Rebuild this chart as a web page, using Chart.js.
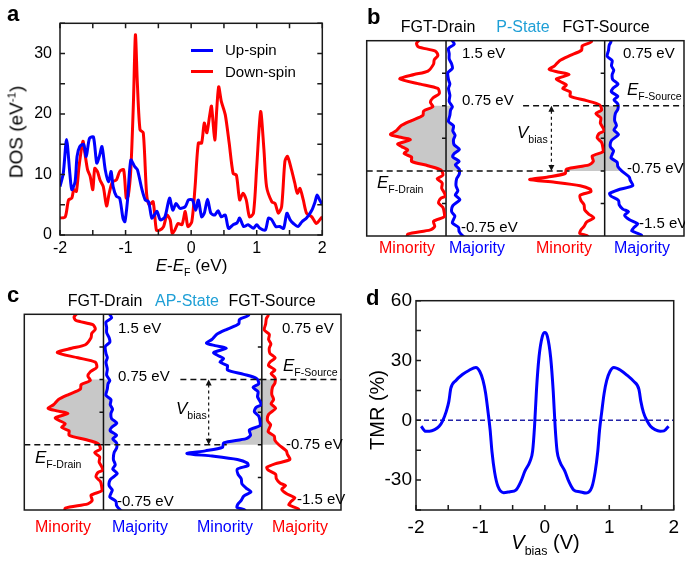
<!DOCTYPE html>
<html>
<head>
<meta charset="utf-8">
<script src="https://cdn.jsdelivr.net/npm/chart.js@4.4.1/dist/chart.umd.min.js"></script>
<style>
  body { margin: 0; width: 685px; height: 563px; position: relative; overflow: hidden; background: #fff;
         font-family: "Liberation Sans", Arial, sans-serif; color: #000; }
  canvas { position: absolute; }
  .t { position: absolute; white-space: nowrap; line-height: 1; }
  .s { font-size: 0.62em; vertical-align: -0.5em; line-height: 0; }
  .p { font-size: 0.6em; vertical-align: 0.6em; line-height: 0; }
</style>
</head>
<body>
<canvas id="chartA" width="340" height="270" style="left:0;top:0"></canvas>
<canvas id="chartB" width="345" height="270" style="left:340px;top:0"></canvas>
<canvas id="chartC" width="345" height="283" style="left:0;top:280px"></canvas>
<canvas id="chartD" width="345" height="283" style="left:340px;top:280px"></canvas>
<script>
// panel a: spin-resolved DOS (eV^-1) vs E-E_F (eV)
const upE = [-2.00,-1.95,-1.90,-1.85,-1.82,-1.77,-1.74,-1.70,-1.64,-1.60,
  -1.55,-1.49,-1.44,-1.40,-1.36,-1.31,-1.26,-1.22,-1.19,-1.14,
  -1.09,-1.04,-1.01,-0.97,-0.92,-0.86,-0.82,-0.75,-0.70,-0.65,
  -0.60,-0.56,-0.52,-0.47,-0.40,-0.33,-0.28,-0.23,-0.17,-0.09,
  -0.04,0.02,0.07,0.11,0.16,0.20,0.25,0.30,0.36,0.41,
  0.46,0.52,0.57,0.64,0.70,0.74,0.80,0.87,0.95,1.00,
  1.05,1.13,1.18,1.23,1.29,1.35,1.41,1.46,1.51,1.56,
  1.63,1.69,1.76,1.84,1.89,1.92,1.96,2.00];
const upDos = [8.0,10.2,15.8,10.2,7.5,8.8,13,14.6,15,13,
  16,16.2,11.9,13,14.6,10.8,8.8,10.5,8,6.4,
  6.1,2.8,2.2,5.8,12.4,11.3,10.8,7.5,5.8,5.5,
  2.8,3.3,3.9,2.5,3,6.1,4.1,5.2,4.4,4.7,
  5.8,5.8,4.1,5.8,3,3.6,5.9,3.6,3.3,4,
  3,3.3,1.1,1.7,2,2.8,1.4,1.7,1.1,1.7,
  1.1,0.8,2.8,2.5,1.4,1.4,1.1,3.6,2.5,1.9,
  1.4,2.2,2.8,4.1,5.5,6.6,5.8,5];
const downE = [-2.00,-1.92,-1.87,-1.82,-1.79,-1.75,-1.71,-1.65,-1.62,-1.58,
  -1.54,-1.50,-1.47,-1.43,-1.39,-1.34,-1.29,-1.25,-1.20,-1.14,
  -1.09,-1.03,-0.99,-0.96,-0.92,-0.88,-0.85,-0.82,-0.78,-0.73,
  -0.68,-0.64,-0.58,-0.53,-0.48,-0.42,-0.37,-0.32,-0.29,-0.25,
  -0.20,-0.14,-0.09,-0.05,0.01,0.06,0.11,0.16,0.20,0.24,
  0.28,0.31,0.36,0.39,0.42,0.46,0.52,0.58,0.64,0.69,
  0.74,0.79,0.84,0.89,0.95,1.00,1.06,1.11,1.15,1.23,
  1.28,1.33,1.38,1.43,1.47,1.53,1.58,1.62,1.66,1.71,
  1.76,1.84,1.91,1.96,2.00];
const downDos = [2.8,3,5.8,6.1,7.5,7.2,11.3,15.5,13.5,10.8,
  9.7,7.5,11,10.5,9.1,8,4.8,6.9,8.8,9.1,
  10.5,10.8,6.1,6.4,10.8,22,33.1,25,17.4,16.9,
  6.9,5,5.5,0.8,0.8,1.4,3.3,2.5,0.3,0.8,
  1.9,1.7,3.9,1.4,2.2,8,15.2,15.2,18.5,16.9,
  19.6,21.3,15.7,20.7,24.5,22.1,19.9,15.2,10.2,9.9,
  5.8,6.9,5.8,3,3.6,11.3,20.4,14.1,8,5.5,
  5.2,3.6,4.7,12.2,13,10.8,8.6,6.9,7.7,5.8,
  3.6,3,1.9,2.5,3];
const aXLabels = [-2, -1, 0, 1, 2];
const aYLabels = [0, 10, 20, 30];

// panels b, c: energy windows of drain / source (eV) and bias
const vBias = 0.75;
const drainRange = [-0.75, 1.5];
const sourceRange = [-1.5, 0.75];

// panel d: TMR (%) vs V_bias (V)
const biasV = [-1.92,-1.85,-1.79,-1.71,-1.64,-1.59,-1.53,-1.49,-1.46,-1.38,
  -1.28,-1.18,-1.07,-1.01,-0.96,-0.92,-0.88,-0.85,-0.82,-0.78,
  -0.73,-0.64,-0.54,-0.45,-0.37,-0.31,-0.23,-0.19,-0.16,-0.13,
  -0.09,-0.04,0,0.04,0.09,0.13,0.16,0.19,0.23,0.31,
  0.37,0.45,0.54,0.64,0.73,0.78,0.82,0.85,0.88,0.92,
  0.96,1.01,1.07,1.18,1.28,1.38,1.46,1.49,1.53,1.59,
  1.64,1.71,1.79,1.85,1.92];
const tmr = [-3,-5.5,-5.5,-4.7,-3,-0.5,4.5,9.5,16,20,
  23,25,26.5,24.5,20,13.7,3.7,-4.7,-16,-26,
  -33,-36.3,-35.8,-35,-30.5,-25.5,-20.5,-15.5,-3,15.3,
  32,42,44,42,31.5,14.5,-3.5,-15.5,-20.5,-25.5,
  -30.5,-35,-35.8,-36.5,-33.5,-26,-16,-4.5,3.5,13.5,
  20,24.5,26.5,25,22.5,19.5,15.5,9.5,4,-0.5,
  -3,-4.7,-5.5,-5.3,-3];
const dXLabels = [-2, -1, 0, 1, 2];
const dYLabels = [60, 30, 0, -30];

const BLUE = '#0000ff', RED = '#ff0000', GREY = '#c8c8c8', CYAN = '#1e9fd6';

Chart.defaults.font.family = '"Liberation Sans", Arial, sans-serif';
Chart.defaults.color = '#000';

// box around the plot area, with inward tick marks on the chosen sides
const framePlugin = {
  id: 'frame',
  afterDraw(chart, args, opts) {
    const { ctx, chartArea: a } = chart;
    ctx.save();
    ctx.strokeStyle = '#1a1a1a';
    ctx.lineWidth = 1.5;
    ctx.strokeRect(a.left, a.top, a.right - a.left, a.bottom - a.top);
    const len = 5;
    ctx.beginPath();
    (opts.sides || []).forEach(side => {
      const horiz = side === 'top' || side === 'bottom';
      const s = horiz ? chart.scales.x : chart.scales.y;
      s.ticks.forEach(t => {
        const p = s.getPixelForValue(t.value);
        if (side === 'bottom') { ctx.moveTo(p, a.bottom); ctx.lineTo(p, a.bottom - len); }
        if (side === 'top') { ctx.moveTo(p, a.top); ctx.lineTo(p, a.top + len); }
        if (side === 'left') { ctx.moveTo(a.left, p); ctx.lineTo(a.left + len, p); }
        if (side === 'right') { ctx.moveTo(a.right, p); ctx.lineTo(a.right - len, p); }
      });
    });
    ctx.stroke();
    ctx.restore();
  }
};

// shading of the bias window, zero lines, Fermi levels and the V_bias arrow
const bandPlugin = {
  id: 'band',
  beforeDatasetsDraw(chart) {
    const { ctx, chartArea: a, scales: s } = chart;
    const ok = p => Number.isFinite(p.x) && Number.isFinite(p.y);
    const shade = (i, j, yId, lo, hi) => {
      const y0 = s[yId].getPixelForValue(hi), y1 = s[yId].getPixelForValue(lo);
      const pa = chart.getDatasetMeta(i).data.filter(ok);
      const pb = chart.getDatasetMeta(j).data.filter(ok).reverse();
      ctx.save();
      ctx.beginPath();
      ctx.rect(a.left, y0, a.right - a.left, y1 - y0);
      ctx.clip();
      ctx.beginPath();
      pa.forEach((p, k) => k ? ctx.lineTo(p.x, p.y) : ctx.moveTo(p.x, p.y));
      pb.forEach(p => ctx.lineTo(p.x, p.y));
      ctx.closePath();
      ctx.fillStyle = GREY;
      ctx.fill();
      ctx.restore();
    };
    shade(0, 1, 'yD', 0, vBias);
    shade(2, 3, 'yS', -vBias, 0);

    ctx.save();
    ctx.strokeStyle = '#111';
    ctx.lineWidth = 1.5;
    ctx.beginPath();
    [s.xDm.getPixelForValue(0), s.xSm.getPixelForValue(0)].forEach(x => {
      ctx.moveTo(x, a.top); ctx.lineTo(x, a.bottom);
      for (let e = drainRange[0] + 0.375; e < drainRange[1]; e += 0.375) {
        const y = s.yD.getPixelForValue(e);
        ctx.moveTo(x - 4, y); ctx.lineTo(x, y);
      }
    });
    ctx.stroke();
    ctx.restore();
  },
  afterDatasetsDraw(chart) {
    const { ctx, chartArea: a, scales: s } = chart;
    const yD0 = s.yD.getPixelForValue(0), yS0 = s.yS.getPixelForValue(0);
    ctx.save();
    ctx.strokeStyle = '#111';
    ctx.lineWidth = 1.5;
    ctx.setLineDash([6, 4]);
    ctx.beginPath();
    ctx.moveTo(a.left, yD0); ctx.lineTo(s.xSm.getPixelForValue(15.5), yD0);
    ctx.moveTo(s.xSm.getPixelForValue(36), yS0); ctx.lineTo(a.right, yS0);
    ctx.stroke();
    // V_bias arrow
    const ax = s.xSm.getPixelForValue(23.5);
    ctx.lineWidth = 1.2;
    ctx.setLineDash([3, 3]);
    ctx.beginPath();
    ctx.moveTo(ax, yS0 + 5); ctx.lineTo(ax, yD0 - 5);
    ctx.stroke();
    ctx.setLineDash([]);
    ctx.fillStyle = '#111';
    ctx.beginPath();
    ctx.moveTo(ax, yS0); ctx.lineTo(ax - 3, yS0 + 6); ctx.lineTo(ax + 3, yS0 + 6); ctx.closePath();
    ctx.moveTo(ax, yD0); ctx.lineTo(ax - 3, yD0 - 6); ctx.lineTo(ax + 3, yD0 - 6); ctx.closePath();
    ctx.fill();
    ctx.restore();
  }
};

// dashed zero line for TMR
const zeroPlugin = {
  id: 'zero',
  beforeDatasetsDraw(chart) {
    const { ctx, chartArea: a, scales: s } = chart;
    const y = s.y.getPixelForValue(0);
    ctx.save();
    ctx.strokeStyle = '#2323a8';
    ctx.lineWidth = 1.5;
    ctx.setLineDash([5, 3]);
    ctx.beginPath();
    ctx.moveTo(a.left, y); ctx.lineTo(a.right, y);
    ctx.stroke();
    ctx.restore();
  }
};

const xy = (xs, ys) => xs.map((v, i) => ({ x: v, y: ys[i] }));

// ---- panel a ----
new Chart(document.getElementById('chartA'), {
  type: 'line',
  data: {
    datasets: [
      { label: 'Up-spin', data: xy(upE, upDos), borderColor: BLUE, borderWidth: 3, pointRadius: 0, tension: 0.25 },
      { label: 'Down-spin', data: xy(downE, downDos), borderColor: RED, borderWidth: 3, pointRadius: 0, tension: 0.25 }
    ]
  },
  options: {
    responsive: false,
    animation: false,
    layout: { padding: { top: 23.3, right: 17.7, left: 0, bottom: 0 } },
    plugins: { legend: { display: false }, tooltip: { enabled: false }, frame: { sides: ['bottom', 'top', 'left', 'right'] } },
    scales: {
      x: {
        type: 'linear', min: -2, max: 2,
        grid: { display: false, drawTicks: false }, border: { display: false },
        ticks: { stepSize: 0.5, autoSkip: false, maxRotation: 0, padding: 4, font: { size: 16 },
                 callback: v => aXLabels.includes(v) ? v : '' },
        afterFit: s => { s.height = 35; }
      },
      y: {
        type: 'linear', min: 0, max: 35,
        grid: { display: false, drawTicks: false }, border: { display: false },
        ticks: { stepSize: 5, autoSkip: false, padding: 8, font: { size: 16 },
                 callback: v => aYLabels.includes(v) ? v : '' },
        afterFit: s => { s.width = 60; }
      }
    }
  },
  plugins: [framePlugin]
});

// ---- panels b, c ----
function schematic(id, colors, pad) {
  const ds = (E, D, color, xId, yId) => ({
    data: xy(D, E), borderColor: color, borderWidth: 3,
    pointRadius: 0, tension: 0.25, fill: false, xAxisID: xId, yAxisID: yId
  });
  const col = reverse => ({ type: 'linear', axis: 'x', position: 'bottom', stack: 'cols', reverse, min: 0, max: 35, display: false });
  return new Chart(document.getElementById(id), {
    type: 'line',
    data: {
      datasets: [
        ds(downE, downDos, colors[0], 'xDm', 'yD'),
        ds(upE, upDos, colors[1], 'xDM', 'yD'),
        ds(downE, downDos, colors[2], 'xSm', 'yS'),
        ds(upE, upDos, colors[3], 'xSM', 'yS')
      ]
    },
    options: {
      indexAxis: 'y',
      responsive: false,
      animation: false,
      layout: { padding: pad },
      plugins: { legend: { display: false }, tooltip: { enabled: false }, frame: { sides: [] } },
      scales: {
        xDm: col(true), xDM: col(false), xSm: col(true), xSM: col(false),
        yD: { type: 'linear', axis: 'y', min: drainRange[0], max: drainRange[1], display: false },
        yS: { type: 'linear', axis: 'y', min: sourceRange[0], max: sourceRange[1], display: false }
      }
    },
    plugins: [framePlugin, bandPlugin]
  });
}
schematic('chartB', [RED, BLUE, RED, BLUE], { left: 26.7, right: 1, top: 40.7, bottom: 34 });
schematic('chartC', [RED, BLUE, BLUE, RED], { left: 24.3, right: 4, top: 34.3, bottom: 53 });

// ---- panel d ----
new Chart(document.getElementById('chartD'), {
  type: 'line',
  data: {
    datasets: [
      { label: 'TMR', data: xy(biasV, tmr), borderColor: BLUE, borderWidth: 3, pointRadius: 0, cubicInterpolationMode: 'monotone' }
    ]
  },
  options: {
    responsive: false,
    animation: false,
    layout: { padding: { top: 20.7, right: 8.3, left: 0, bottom: 0 } },
    plugins: { legend: { display: false }, tooltip: { enabled: false }, frame: { sides: ['bottom', 'left'] } },
    scales: {
      x: {
        type: 'linear', min: -2, max: 2,
        grid: { display: false, drawTicks: false }, border: { display: false },
        ticks: { stepSize: 0.5, autoSkip: false, maxRotation: 0, padding: 6, font: { size: 19 },
                 callback: v => dXLabels.includes(v) ? v : '' },
        afterFit: s => { s.height = 53; }
      },
      y: {
        type: 'linear', min: -45, max: 60,
        grid: { display: false, drawTicks: false }, border: { display: false },
        ticks: { stepSize: 15, autoSkip: false, padding: 4, font: { size: 19 },
                 callback: v => dYLabels.includes(v) ? v : '' },
        afterFit: s => { s.width = 76; }
      }
    }
  },
  plugins: [framePlugin, zeroPlugin]
});

// ---- text ----
function txt(html, x, y, size, o = {}) {
  const d = document.createElement('div');
  d.className = 't';
  d.innerHTML = html;
  const tx = o.align === 'l' ? '0' : o.align === 'r' ? '-100%' : '-50%';
  d.style.left = x + 'px';
  d.style.top = y + 'px';
  d.style.fontSize = size + 'px';
  if (o.color) d.style.color = o.color;
  if (o.bold) d.style.fontWeight = 'bold';
  d.style.transform = `translate(${tx},-50%)` + (o.rot ? ' rotate(-90deg)' : '');
  document.body.appendChild(d);
}
function legendLine(x, y, w, color) {
  const d = document.createElement('div');
  d.style.cssText = `position:absolute;left:${x}px;top:${y - 1.5}px;width:${w}px;height:3px;background:${color}`;
  document.body.appendChild(d);
}
const sub = s => `<span class="s">${s}</span>`;

// panel letters
txt('a', 7, 14, 22, { align: 'l', bold: true });
txt('b', 367, 17, 22, { align: 'l', bold: true });
txt('c', 7, 295, 22, { align: 'l', bold: true });
txt('d', 366, 298, 22, { align: 'l', bold: true });

// panel a
txt('DOS (eV<span class="p">-1</span>)', 16, 131.5, 19, { rot: true });
txt(`<i>E</i>-<i>E</i>${sub('F')} (eV)`, 191.5, 265, 17);
legendLine(191, 50, 22, BLUE);
legendLine(191, 71, 22, RED);
txt('Up-spin', 225, 49, 15, { align: 'l' });
txt('Down-spin', 225, 70.5, 15, { align: 'l' });

// panel b
txt('FGT-Drain', 438, 26.7, 16);
txt('P-State', 523, 26.7, 16, { color: CYAN });
txt('FGT-Source', 606, 26.7, 16);
txt('1.5 eV', 462, 52, 15, { align: 'l' });
txt('0.75 eV', 462, 99, 15, { align: 'l' });
txt('-0.75 eV', 461, 226, 15, { align: 'l' });
txt('0.75 eV', 623, 52, 15, { align: 'l' });
txt('-0.75 eV', 627, 167, 15, { align: 'l' });
txt('-1.5 eV', 639, 222, 15, { align: 'l' });
txt(`<i>E</i>${sub('F-Source')}`, 627, 89.3, 17, { align: 'l' });
txt(`<i>E</i>${sub('F-Drain')}`, 377, 181.7, 17, { align: 'l' });
txt(`<i>V</i>${sub('bias')}`, 517, 132, 17, { align: 'l' });
txt('Minority', 407, 248, 16, { color: RED });
txt('Majority', 477, 248, 16, { color: BLUE });
txt('Minority', 564, 248, 16, { color: RED });
txt('Majority', 642, 248, 16, { color: BLUE });

// panel c
txt('FGT-Drain', 105, 300.7, 16);
txt('AP-State', 187, 300.7, 16, { color: CYAN });
txt('FGT-Source', 272, 300.7, 16);
txt('1.5 eV', 118, 327, 15, { align: 'l' });
txt('0.75 eV', 118, 375, 15, { align: 'l' });
txt('-0.75 eV', 117, 500, 15, { align: 'l' });
txt('0.75 eV', 282, 327, 15, { align: 'l' });
txt('-0.75 eV', 286, 443, 15, { align: 'l' });
txt('-1.5 eV', 297, 498, 15, { align: 'l' });
txt(`<i>E</i>${sub('F-Source')}`, 283, 365, 17, { align: 'l' });
txt(`<i>E</i>${sub('F-Drain')}`, 35, 456.7, 17, { align: 'l' });
txt(`<i>V</i>${sub('bias')}`, 176, 408.3, 17, { align: 'l' });
txt('Minority', 63, 526.7, 16, { color: RED });
txt('Majority', 140, 526.7, 16, { color: BLUE });
txt('Minority', 225, 526.7, 16, { color: BLUE });
txt('Majority', 300, 526.7, 16, { color: RED });

// panel d
txt('TMR (%)', 377, 410, 20, { rot: true });
txt(`<i>V</i>${sub('bias')} (V)`, 545.5, 541.7, 20);
</script>
</body>
</html>
